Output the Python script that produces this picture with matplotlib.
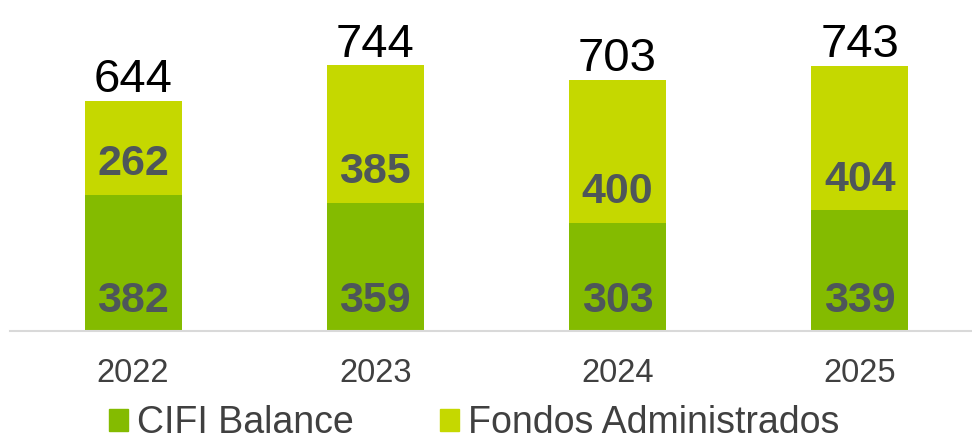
import matplotlib.pyplot as plt
from matplotlib.patches import Patch

years = ["2022", "2023", "2024", "2025"]
cifi_balance = [382, 359, 303, 339]
fondos = [262, 385, 400, 404]
totals = [644, 744, 703, 743]

c_bottom = "#84BB00"
c_top = "#C5D800"
lbl_color = "#4E565A"

plt.rcParams["font.family"] = ["Liberation Sans", "DejaVu Sans"]

fig = plt.figure(figsize=(9.72, 4.41), dpi=100)
ax = fig.add_axes([10 / 972, 0.249, 962 / 972, 0.751])

x = range(len(years))
ax.bar(x, cifi_balance, width=0.4, color=c_bottom)
ax.bar(x, fondos, width=0.4, bottom=cifi_balance, color=c_top)

for i in x:
    ax.annotate(str(cifi_balance[i]), (i, 0), xytext=(0, 22), textcoords="offset points",
                ha="center", va="center", fontsize=31, fontweight="bold", color=lbl_color)
    ax.annotate(str(fondos[i]), (i, cifi_balance[i]), xytext=(0, 22), textcoords="offset points",
                ha="center", va="center", fontsize=31, fontweight="bold", color=lbl_color)
    ax.annotate(str(totals[i]), (i, totals[i]), xytext=(0, -1), textcoords="offset points",
                ha="center", va="bottom", fontsize=34, color="black")

ax.set_xlim(-0.508, 3.463)
ax.set_ylim(0, 927)
ax.set_xticks(list(x))
ax.set_xticklabels(years, fontsize=23.5, color="#404040")
ax.tick_params(axis="x", length=0, pad=19)
ax.set_yticks([])
for s in ["top", "right", "left"]:
    ax.spines[s].set_visible(False)
ax.spines["bottom"].set_color("#D9D9D9")
ax.spines["bottom"].set_linewidth(1.5)

handles = [Patch(color=c_bottom, label="CIFI Balance"),
           Patch(color=c_top, label="Fondos Administrados")]
fig.legend(handles=handles, loc="center", bbox_to_anchor=(474 / 972, 0.04), ncol=2,
           frameon=False, fontsize=27, handlelength=0.5, handleheight=0.5,
           handletextpad=0.24, columnspacing=2.3, labelcolor="#404040",
           borderpad=0, borderaxespad=0)

fig.savefig("out.png", dpi=100)
